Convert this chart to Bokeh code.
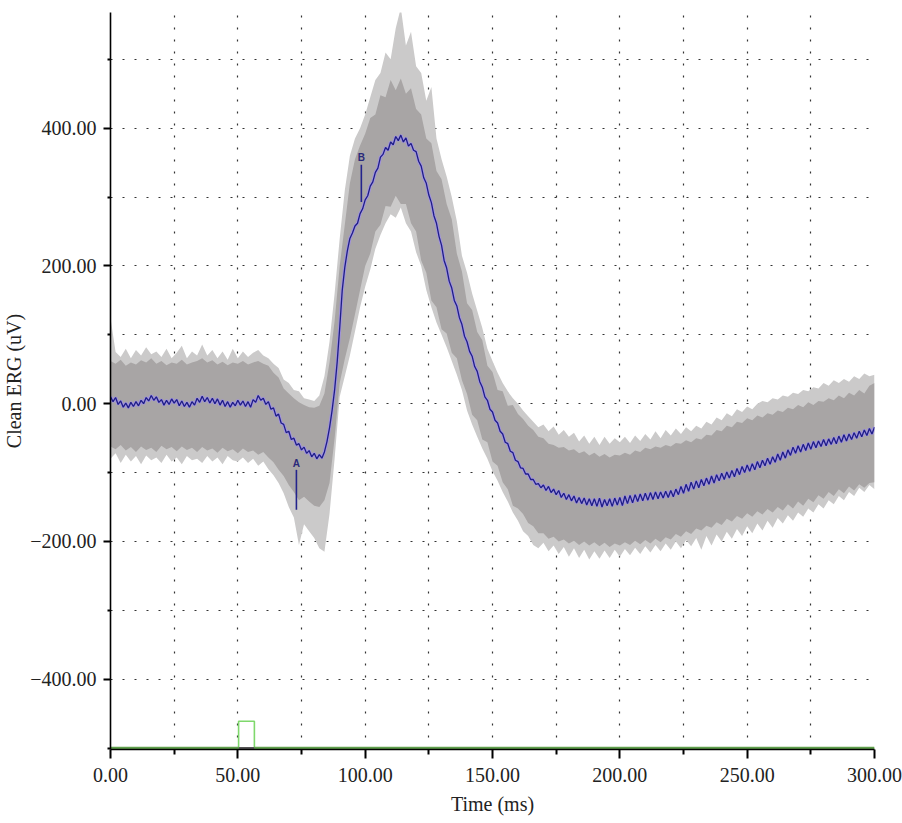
from bokeh.plotting import figure
from bokeh.models import Range1d, FixedTicker, CustomJSTickFormatter, ColumnDataSource
from bokeh.embed import file_html
from bokeh.resources import INLINE
from bokeh.core.properties import value

# ---------------- data ----------------
# mean (blue) trace, one value per ms, 0..300 ms
t_mean = list(range(0, 301))
mean_uv = [
    10, 3, 9, -1, 4, -5, 1, -6, 2, -4,
    3, -3, 5, 0, 9, 4, 12, 5, 10, 2,
    6, -2, 5, -1, 7, 1, 6, -3, 4, -4,
    2, -5, 3, -2, 8, 2, 11, 3, 9, 1,
    8, 0, 7, -2, 5, -4, 3, -5, 2, -3,
    5, -2, 4, -4, 3, -5, 6, 2, 12, 5,
    8, -1, 3, -8, -6, -18, -15, -28, -30, -42,
    -40, -52, -50, -60, -58, -67, -63, -72, -68, -77,
    -72, -80, -74, -79, -70, -55, -35, -10, 20, 60,
    110, 165, 198, 222, 240, 248, 258, 262, 276, 283,
    296, 302, 316, 322, 336, 342, 358, 362, 372, 368,
    380, 376, 388, 382, 390, 380, 386, 374, 378, 368,
    366, 352, 345, 328, 320, 303, 292, 273, 262, 243,
    230, 208, 197, 178, 168, 150, 142, 125, 115, 98,
    90, 76, 69, 54, 47, 32, 24, 10, 5, -8,
    -12, -24, -28, -40, -44, -56, -58, -69, -71, -82,
    -84, -93, -94, -102, -102, -110, -110, -117, -116, -122,
    -118, -126, -120, -129, -124, -132, -126, -136, -130, -139,
    -132, -141, -134, -144, -136, -145, -137, -147, -138, -148,
    -138, -149, -137, -150, -139, -148, -138, -149, -137, -147,
    -136, -148, -134, -145, -133, -144, -132, -142, -131, -141,
    -130, -140, -129, -139, -128, -138, -128, -137, -127, -136,
    -126, -135, -124, -132, -120, -130, -117, -127, -114, -124,
    -112, -122, -110, -119, -108, -117, -105, -115, -103, -112,
    -101, -110, -99, -108, -97, -106, -94, -103, -91, -100,
    -89, -98, -87, -96, -84, -93, -82, -90, -79, -88,
    -77, -85, -73, -82, -70, -79, -67, -75, -63, -72,
    -61, -70, -59, -68, -57, -66, -55, -64, -54, -62,
    -52, -61, -51, -59, -49, -58, -47, -56, -45, -54,
    -44, -52, -42, -50, -40, -48, -38, -46, -36, -44,
    -34,
]

# envelope of the individual (gray) traces, every 2 ms
t_env = list(range(0, 301, 2))
dense_upper = [
    62, 58, 64, 55, 60, 57, 63, 60, 66, 58,
    62, 56, 60, 58, 64, 57, 60, 62, 66, 60,
    63, 57, 61, 56, 60, 58, 62, 57, 60, 62,
    58, 55, 45, 38, 22, 15, 8, 2, -2, -5,
    -6, -3, 15, 60, 120, 200, 260, 320, 355, 375,
    392, 415, 420, 448, 445, 470, 455, 472, 450, 458,
    428, 420, 385, 378, 338, 326, 290, 268, 218, 192,
    146, 136, 104, 92, 55, 46, 20, 18, -3, -2,
    -15, -22, -32, -38, -48, -50, -58, -60, -64, -63,
    -68, -66, -72, -69, -75, -71, -77, -73, -78, -74,
    -75, -71, -74, -68, -70, -64, -66, -62, -64, -60,
    -62, -57, -58, -53, -56, -50, -52, -45, -46, -38,
    -40, -32, -34, -26, -28, -21, -24, -17, -20, -14,
    -16, -10, -12, -6, -8, -2, -5, 2, -2, 4,
    3, 8, 5, 12, 8, 16, 12, 20, 15, 26,
    30,
]
dense_lower = [
    -62, -66, -60, -68, -63, -70, -62, -67, -64, -70,
    -61, -66, -63, -69, -62, -67, -64, -70, -63, -68,
    -65, -71, -64, -69, -66, -72, -65, -70, -68, -74,
    -70, -78, -85, -96, -105, -118, -128, -140, -135, -142,
    -148, -150, -140, -115, -50, 30, 65, 95, 130, 165,
    200, 218, 250, 260, 287, 286, 302, 290, 290, 262,
    250, 208, 190, 150, 140, 108, 102, 74, 66, 34,
    14, -16, -24, -52, -56, -84, -90, -114, -124, -148,
    -152, -160, -173, -178, -188, -188, -196, -193, -200, -197,
    -203, -199, -205, -200, -206, -201, -207, -202, -208, -203,
    -206, -201, -205, -199, -204, -198, -203, -196, -201, -194,
    -197, -189, -193, -185, -189, -181, -184, -177, -180, -172,
    -176, -167, -171, -163, -167, -159, -164, -156, -161, -153,
    -158, -150, -155, -146, -152, -142, -148, -138, -143, -133,
    -138, -128, -134, -124, -130, -120, -126, -117, -122, -115,
    -114,
]
spike_upper = [
    125, 75, 68, 80, 66, 78, 70, 82, 72, 76,
    68, 80, 66, 74, 84, 66, 76, 70, 86, 70,
    78, 66, 76, 64, 80, 66, 76, 68, 74, 78,
    70, 66, 58, 52, 35, 30, 20, 18, 8, 6,
    4, 12, 40, 90, 160, 240, 310, 360, 385, 400,
    420, 445, 470, 480, 510, 500, 545, 575, 520, 540,
    490, 480, 440, 460, 385, 355, 330, 300, 265, 215,
    190, 160, 135, 110, 80, 62, 45, 30, 18, 8,
    0, -10, -18, -26, -34, -30, -40, -33, -45, -38,
    -48, -42, -55, -46, -58, -48, -60, -48, -58, -50,
    -56, -48, -57, -46, -54, -44, -52, -40, -50, -38,
    -46, -36, -44, -34, -40, -32, -36, -26, -30, -20,
    -24, -14, -18, -8, -12, -4, -8, 0, 4, 2,
    8, 6, 12, 10, 16, 14, 20, 18, 24, 22,
    30, 26, 34, 30, 36, 32, 40, 36, 44, 40,
    42,
]
spike_lower = [
    -80, -72, -86, -74, -84, -76, -88, -75, -82, -78,
    -86, -74, -84, -78, -88, -76, -82, -80, -86, -76,
    -84, -78, -88, -76, -82, -84, -78, -86, -80, -90,
    -84, -95, -104, -115, -130, -150, -165, -205, -175, -185,
    -195, -210, -215, -160, -80, 10, 40, 70, 105, 140,
    170, 195, 225, 245, 262, 275, 270, 285, 262, 250,
    220, 200, 165, 140, 118, 100, 82, 62, 42, 20,
    -10, -30, -48, -65, -80, -98, -112, -128, -142, -158,
    -170, -185, -192, -205, -210, -202, -214, -206, -218, -208,
    -222, -210, -224, -212, -226, -214, -225, -213, -224, -212,
    -222, -211, -220, -209, -218, -207, -216, -205, -214, -203,
    -212, -200, -210, -198, -207, -195, -212, -192, -206, -190,
    -200, -186, -196, -182, -192, -178, -188, -174, -184, -170,
    -180, -166, -174, -162, -170, -158, -164, -152, -158, -146,
    -152, -140, -146, -134, -140, -128, -134, -122, -128, -118,
    -124,
]

# stimulus trace (green)
stim_t = [0, 50.3, 50.3, 56.5, 56.5, 300]
stim_uv = [-500, -500, -461, -461, -500, -500]

# markers A and B
marker_label = ["A", "B"]
marker_t = [73.0, 98.5]
marker_top = [-96, 347]
marker_bottom = [-154, 293]
marker_text_uv = [-87, 357]

# axis ticks
x_major = [0, 50, 100, 150, 200, 250, 300]
x_minor = [25, 75, 125, 175, 225, 275]
y_major = [-400, -200, 0, 200, 400]
y_minor = [-500, -300, -100, 100, 300, 500]
x_grid = [0, 25, 50, 75, 100, 125, 150, 175, 200, 225, 250, 275, 300]
y_grid = [-500, -400, -300, -200, -100, 0, 100, 200, 300, 400, 500]

# ---------------- figure ----------------
FONT = "Liberation Serif"
p = figure(width=902, height=823, output_backend="svg", toolbar_location=None,
           x_range=Range1d(0, 300), y_range=Range1d(-502, 568),
           min_border_left=110, min_border_right=28, min_border_top=12,
           min_border_bottom=74)
p.outline_line_color = None
p.background_fill_color = "white"

env = ColumnDataSource(dict(t=t_env, du=dense_upper, dl=dense_lower,
                            su=spike_upper, sl=spike_lower))
p.varea(x="t", y1="sl", y2="su", source=env, fill_color="#cbcaca")
p.varea(x="t", y1="dl", y2="du", source=env, fill_color="#a8a5a5")

mean_src = ColumnDataSource(dict(t=t_mean, v=mean_uv))
p.line("t", "v", source=mean_src, line_color="#9d8cf2", line_width=3.2, line_alpha=0.75)
p.line("t", "v", source=mean_src, line_color="#1e1e86", line_width=1.3)

mk = ColumnDataSource(dict(t=marker_t, top=marker_top, bot=marker_bottom,
                           ty=marker_text_uv, lab=marker_label))
p.segment(x0="t", y0="top", x1="t", y1="bot", source=mk, line_color="#24248c", line_width=1.6)
p.text(x="t", y="ty", text="lab", source=mk, text_align="center", text_baseline="middle",
       text_font=value("Liberation Sans"), text_font_size="10px", text_font_style="bold",
       text_color="#2a2a7a")

p.line(stim_t, stim_uv, line_color="#7fd86c", line_width=1.6)
p.line([stim_t[0], stim_t[1]], [stim_uv[0], stim_uv[1]], line_color="#5f9f4c", line_width=2.5)
p.line([stim_t[4], stim_t[5]], [stim_uv[4], stim_uv[5]], line_color="#5f9f4c", line_width=2.5)
p.line([stim_t[1], stim_t[4]], [stim_uv[1], stim_uv[4]], line_color="#555555", line_width=2)

# grids
p.xgrid.ticker = FixedTicker(ticks=x_grid)
p.ygrid.ticker = FixedTicker(ticks=y_grid)
for g in (p.xgrid, p.ygrid):
    g.grid_line_color = "#333333"
    g.grid_line_dash = "2 10"
    g.grid_line_width = 1.2

fmt = CustomJSTickFormatter(code="return (tick < 0 ? '\u2212' : '') + Math.abs(tick).toFixed(2);")

xa = p.xaxis[0]
xa.ticker = FixedTicker(ticks=x_major, minor_ticks=x_minor)
ya = p.yaxis[0]
ya.ticker = FixedTicker(ticks=y_major, minor_ticks=y_minor)
xa.axis_label = "Time (ms)"
ya.axis_label = "Clean ERG (uV)"
for ax in (xa, ya):
    ax.formatter = fmt
    ax.axis_line_color = "black"
    ax.axis_line_width = 1.6
    ax.major_tick_line_color = "black"
    ax.minor_tick_line_color = "black"
    ax.major_tick_line_width = 2
    ax.minor_tick_line_width = 2
    ax.major_tick_in = 0
    ax.minor_tick_in = 0
    ax.major_label_text_font = FONT
    ax.major_label_text_font_size = "20px"
    ax.major_label_text_color = "#222222"
    ax.axis_label_text_font = FONT
    ax.axis_label_text_font_size = "20px"
    ax.axis_label_text_font_style = "normal"
    ax.axis_label_text_color = "#222222"
xa.major_tick_out = 9
xa.minor_tick_out = 5
xa.major_label_standoff = 9
xa.axis_label_standoff = 8
ya.major_tick_out = 7
ya.minor_tick_out = 3
ya.major_label_standoff = 7
ya.axis_label_standoff = 2

open("out.html", "w").write(file_html(p, INLINE))
